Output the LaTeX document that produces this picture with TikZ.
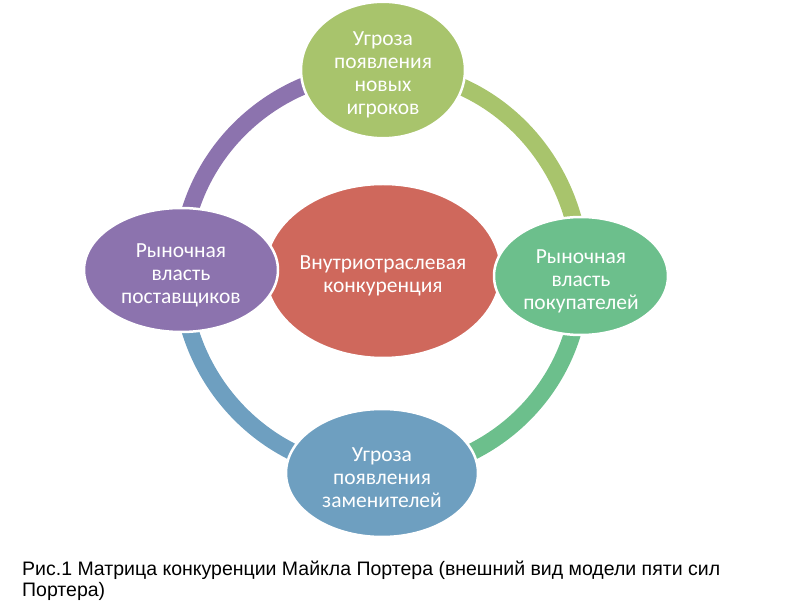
\documentclass[tikz,border=0pt]{standalone}
\usepackage{fontspec}
\setmainfont{Carlito}
\newfontfamily\capfont{Liberation Sans}
\usetikzlibrary{shapes.geometric,backgrounds}
\definecolor{cTop}{HTML}{A8C46C}
\definecolor{cCore}{HTML}{CF685C}
\definecolor{cLeft}{HTML}{8C73AE}
\definecolor{cRight}{HTML}{6CBF8C}
\definecolor{cBottom}{HTML}{6E9FC0}
\newcommand{\lowertxt}{\rule{0pt}{24pt}}
\begin{document}
\begin{tikzpicture}[x=1pt,y=1pt,
  oval/.style={ellipse, draw=white, line width=2.5pt, inner sep=0pt, text=white, align=center,
    font=\fontsize{21.5}{23}\selectfont},
  ring/.style={line width=17pt},
  captext/.style={anchor=base west, inner sep=0pt, font=\capfont\fontsize{19.5}{24}\selectfont}]
\useasboundingbox (0,0) rectangle (800,600);
\node[oval, fill=cCore, minimum width=232, minimum height=174] (core) at (383,329) {\lowertxt Внутриотраслевая\\конкуренция};
\node[oval, fill=cTop, minimum width=164, minimum height=112] (top) at (383,530) {\lowertxt Угроза\\появления\\новых\\игроков};
\node[oval, fill=cLeft, minimum width=194, minimum height=124] (left) at (181,330) {\lowertxt Рыночная\\власть\\поставщиков};
\node[oval, fill=cRight, minimum width=174, minimum height=118] (right) at (581,324) {\lowertxt Рыночная\\власть\\покупателей};
\node[oval, fill=cBottom, minimum width=192, minimum height=128] (bottom) at (382,127) {\lowertxt Угроза\\появления\\заменителей};
\begin{pgfonlayer}{background}
\draw[ring, cTop] (top.center) to[out=0,in=90] (right.center);
\draw[ring, cRight] (right.center) to[out=-90,in=0] (bottom.center);
\draw[ring, cBottom] (bottom.center) to[out=180,in=-90] (left.center);
\draw[ring, cLeft] (left.center) to[out=90,in=180] (top.center);
\end{pgfonlayer}
\node[captext] (cap1) at (22,25) {Рис.1 Матрица конкуренции Майкла Портера (внешний вид модели пяти сил};
\node[captext] (cap2) at (22,4) {Портера)};
\end{tikzpicture}
\end{document}
